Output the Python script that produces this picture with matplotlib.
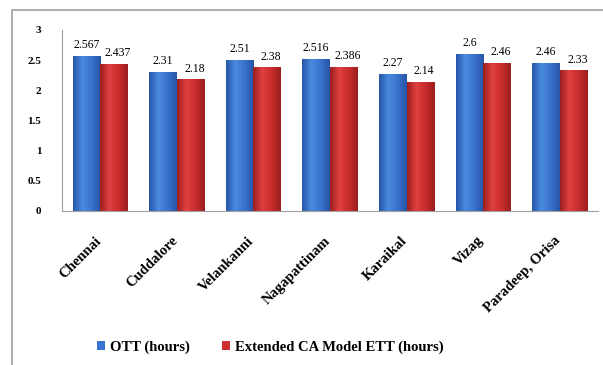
import matplotlib
matplotlib.use("Agg")
import matplotlib.pyplot as plt
import matplotlib.transforms as mtransforms
import numpy as np
from matplotlib.patches import Rectangle
from matplotlib.colors import LinearSegmentedColormap

plt.rcParams['font.family'] = ['Liberation Serif', 'DejaVu Serif']

ports = ["Chennai", "Cuddalore", "Velankanni", "Nagapattinam", "Karaikal", "Vizag", "Paradeep, Orisa"]
ott = [2.567, 2.31, 2.51, 2.516, 2.27, 2.6, 2.46]
ett = [2.437, 2.18, 2.38, 2.386, 2.14, 2.46, 2.33]
ott_lbl = ["2.567", "2.31", "2.51", "2.516", "2.27", "2.6", "2.46"]
ett_lbl = ["2.437", "2.18", "2.38", "2.386", "2.14", "2.46", "2.33"]

fig = plt.figure(figsize=(6.03, 3.65), dpi=100)
fig.patches.append(Rectangle((12/603, -0.1), 1.0, 1 - 10/365 + 0.1, transform=fig.transFigure,
                             fill=False, edgecolor="#a0a0a0", linewidth=1.2))
ax = fig.add_axes([62/603, 1 - 211/365, 536/603, 181/365])

x = np.arange(len(ports))
w = 0.36
b1 = ax.bar(x - w/2, ott, w, color="#3b73d4", linewidth=0, label="OTT (hours)")
b2 = ax.bar(x + w/2, ett, w, color="#cc3030", linewidth=0, label="Extended CA Model ETT (hours)")

# shaded look of the bars
cm_b = LinearSegmentedColormap.from_list("b", ["#2656a8", "#4a8be0", "#3a72cc", "#2656a8"])
cm_r = LinearSegmentedColormap.from_list("r", ["#9c1e1e", "#e04040", "#c82c2c", "#9c1e1e"])
grad = np.linspace(0, 1, 64).reshape(1, -1)
for bars, cm in ((b1, cm_b), (b2, cm_r)):
    for p in bars:
        x0, y0 = p.get_x(), p.get_y()
        im = ax.imshow(grad, cmap=cm, aspect="auto", extent=(x0, x0 + p.get_width(), y0, y0 + p.get_height()),
                       zorder=p.get_zorder() + 0.1)
        im.set_clip_path(p)

for xi, v, t in zip(x - w/2, ott, ott_lbl):
    ax.text(xi, v + 0.08, t, ha="center", va="bottom", fontsize=8.5)
for xi, v, t in zip(x + w/2, ett, ett_lbl):
    ax.text(xi + 0.05, v + 0.08, t, ha="center", va="bottom", fontsize=8.5)

ax.set_ylim(0, 3)
ax.set_xlim(-0.5, len(ports) - 0.5)
ax.set_yticks([0, 0.5, 1, 1.5, 2, 2.5, 3])
ax.set_yticklabels(["0", "0.5", "1", "1.5", "2", "2.5", "3"], fontweight="bold", fontsize=8)
ax.set_xticks(x)
ax.set_xticklabels(ports, rotation=45, ha="right", rotation_mode="anchor", fontweight="bold", fontsize=10.5)
ax.tick_params(axis="y", length=0, pad=15)
ax.tick_params(axis="x", length=0, pad=8)
shift = mtransforms.ScaledTranslation(-6/100, -12/100, fig.dpi_scale_trans)
for lbl in ax.get_xticklabels():
    lbl.set_transform(lbl.get_transform() + shift)
for s in ["top", "right"]:
    ax.spines[s].set_visible(False)
ax.spines["left"].set_color("#a0a0a0")
ax.spines["bottom"].set_color("#a0a0a0")

fig.legend(handles=[b1, b2], loc="center", bbox_to_anchor=(270/603, 1 - 347/365), ncol=2,
           frameon=False, prop={"weight": "bold", "size": 10.5}, handlelength=0.6, handleheight=0.6,
           columnspacing=2.2, handletextpad=0.3)

fig.savefig("out.png", dpi=100)
